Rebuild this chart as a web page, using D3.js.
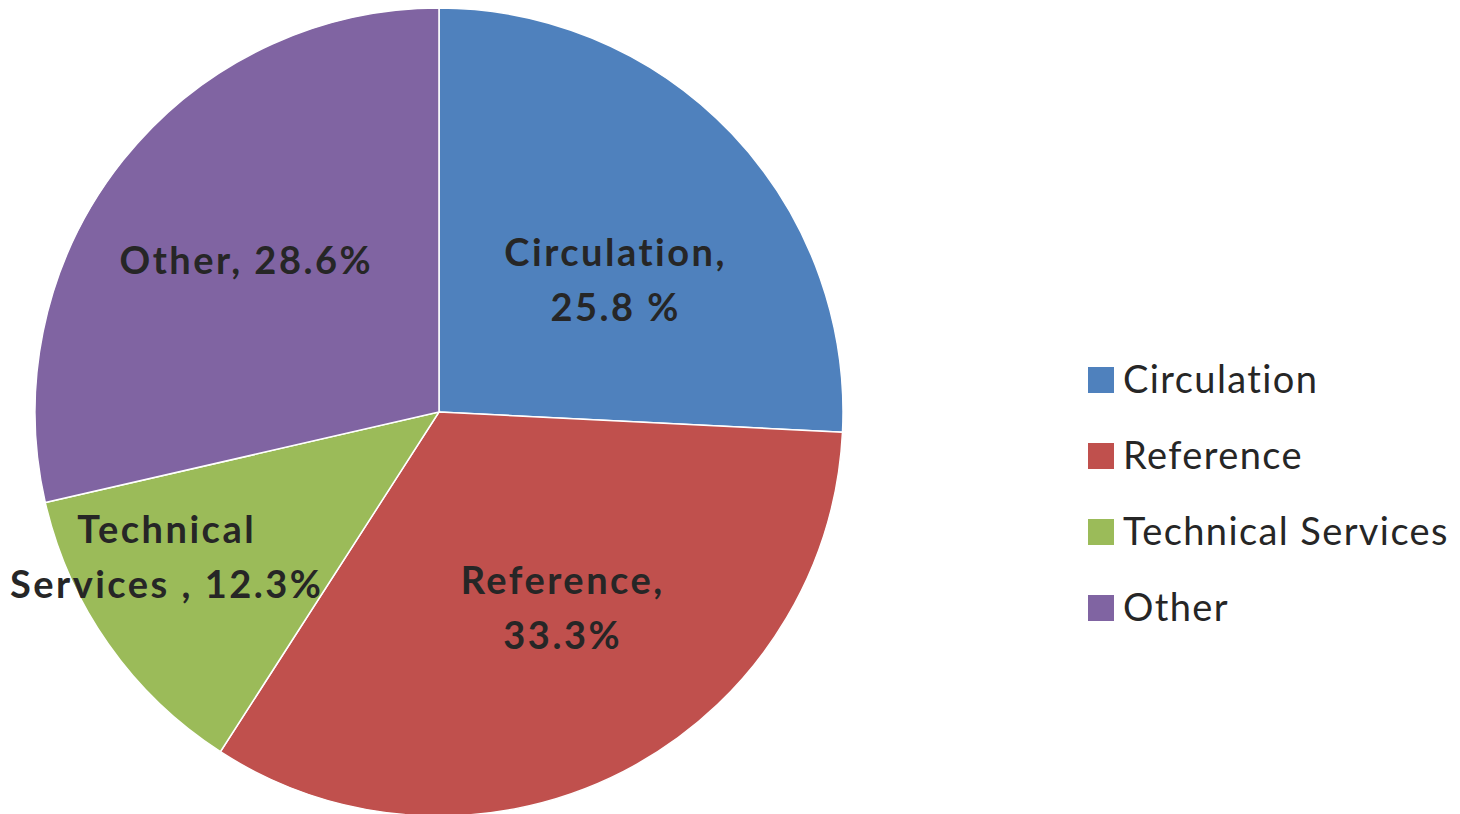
<!DOCTYPE html>
<html>
<head>
<meta charset="utf-8">
<script src="https://cdn.jsdelivr.net/npm/d3@7"></script>
<style>
  body { margin: 0; background: #fff; }
  svg { display: block; }
</style>
</head>
<body>
<div id="chart"></div>
<script>
// data
var categories = ["Circulation", "Reference", "Technical Services", "Other"];
var values = [25.8, 33.3, 12.3, 28.6];
var labelLines = [
  ["Circulation,", "25.8 %"],
  ["Reference,", "33.3%"],
  ["Technical", "Services , 12.3%"],
  ["Other, 28.6%"]
];
var colors = ["#4F81BD", "#C0504D", "#9BBB59", "#8064A2"];

var width = 1460, height = 814;
var cx = 439, cy = 412, radius = 404;

// nudges so labels sit where the original put them
var labelNudge = [[0, 35], [12, -20], [-75, 5], [-4, -1]];

var svg = d3.select("#chart")
  .append("svg")
  .attr("width", width)
  .attr("height", height);

var pie = d3.pie().sort(null).value(function (d) { return d; });
var arcs = pie(values);

var arc = d3.arc().innerRadius(0).outerRadius(radius);
var labelArc = d3.arc().innerRadius(radius * 0.6).outerRadius(radius * 0.6);

var g = svg.append("g")
  .attr("transform", "translate(" + cx + "," + cy + ")");

g.selectAll("path")
  .data(arcs)
  .enter()
  .append("path")
  .attr("d", arc)
  .style("fill", function (d, i) { return colors[i]; })
  .style("stroke", "#fff")
  .style("stroke-width", 1.5);

var lineH = 55;
g.selectAll("g.lbl")
  .data(arcs)
  .enter()
  .append("g")
  .attr("class", "lbl")
  .each(function (d, i) {
    var c = labelArc.centroid(d);
    var x = c[0] + labelNudge[i][0], y = c[1] + labelNudge[i][1];
    var lines = labelLines[i];
    var t = d3.select(this);
    lines.forEach(function (s, j) {
      t.append("text")
        .attr("x", x + 1)
        .attr("y", y + (j - (lines.length - 1) / 2) * lineH + 14)
        .attr("text-anchor", "middle")
        .style("font-family", "Lato, 'Open Sans', sans-serif")
        .style("font-weight", "bold")
        .style("font-size", "38px")
        .style("letter-spacing", "2.5px")
        .style("fill", "#262626")
        .text(s);
    });
  });

// legend
var legend = svg.append("g").attr("transform", "translate(1088,380)");
var ly = d3.scalePoint().domain(categories).range([0, 228]);

var item = legend.selectAll("g")
  .data(categories)
  .enter()
  .append("g")
  .attr("transform", function (d) { return "translate(0," + ly(d) + ")"; });

item.append("rect")
  .attr("x", 0)
  .attr("y", -13)
  .attr("width", 26)
  .attr("height", 26)
  .style("fill", function (d, i) { return colors[i]; });

item.append("text")
  .attr("x", 35)
  .attr("y", 13)
  .style("font-family", "Lato, 'Open Sans', sans-serif")
  .style("font-size", "38px")
  .style("letter-spacing", "1.4px")
  .style("fill", "#262626")
  .text(function (d) { return d; });
</script>
</body>
</html>
